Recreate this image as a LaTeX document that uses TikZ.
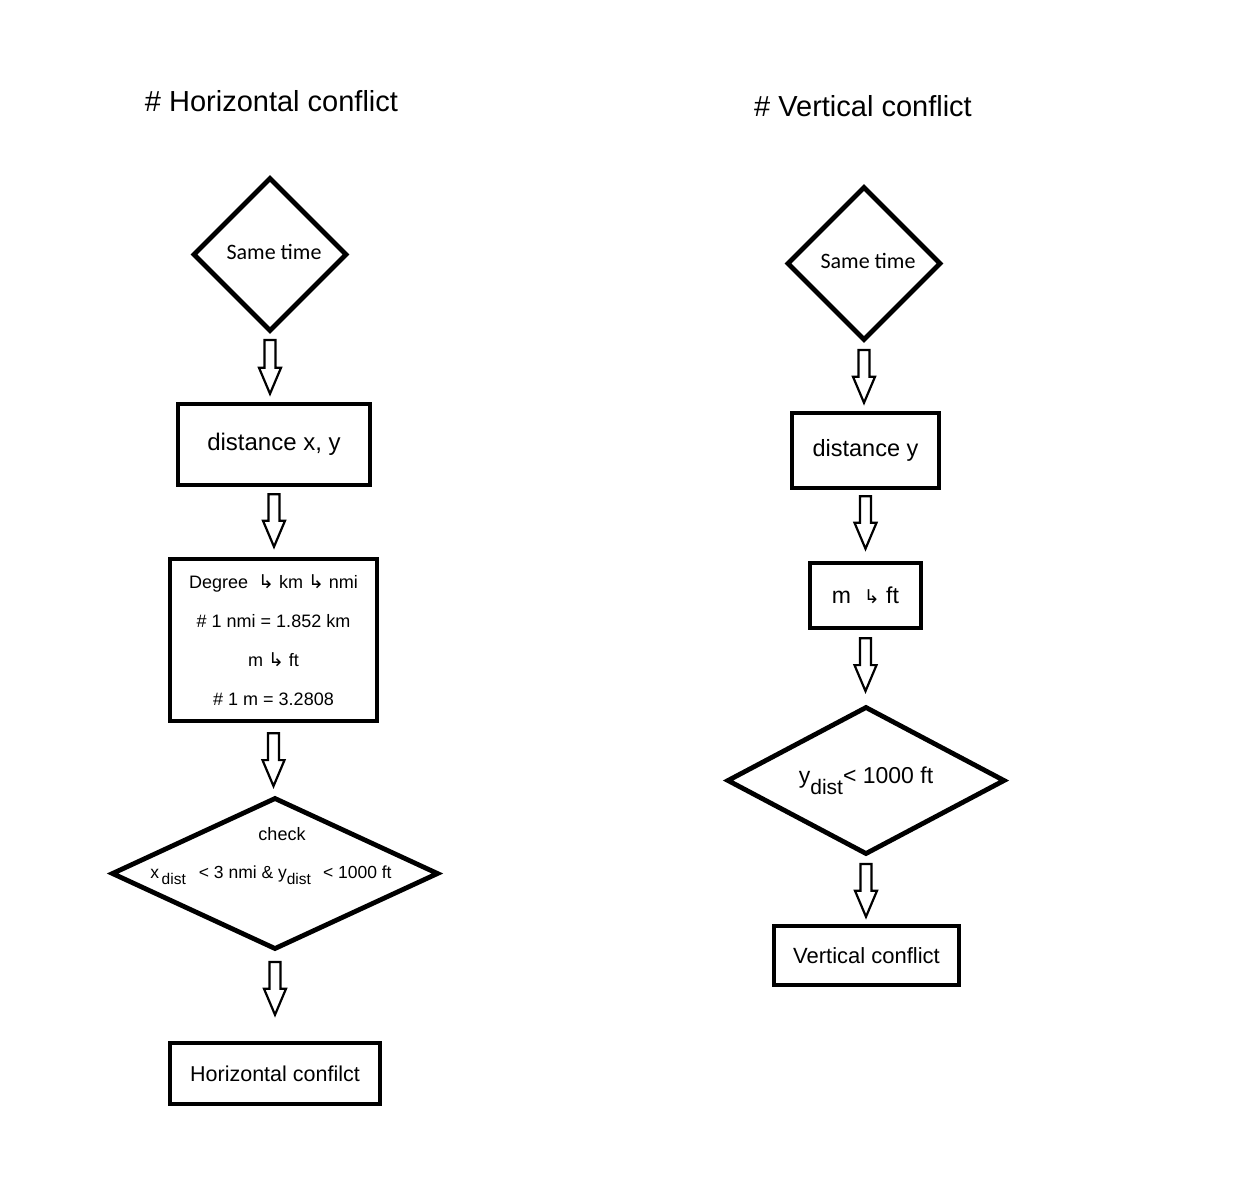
\documentclass[tikz,border=0pt]{standalone}
\usepackage{fontspec}
\setmainfont{Liberation Sans}
\newfontfamily\calib{Carlito}
\newfontfamily\djv{DejaVu Sans}
\usetikzlibrary{shapes.geometric,calc}
\newcommand\harr{{\djv\fontsize{19}{19}\selectfont\char"21B3}}
\newcommand\barrow[4]{\draw[blockarrow] let \p1=(#1.south), \p2=(#2.north) in
  (\x1-5.5pt,\y1-#3pt) -- (\x1+5.5pt,\y1-#3pt) -- (\x1+5.5pt,\y2+#4pt+26pt) -- (\x1+11pt,\y2+#4pt+26pt)
  -- (\x1,\y2+#4pt) -- (\x1-11pt,\y2+#4pt+26pt) -- (\x1-5.5pt,\y2+#4pt+26pt) -- cycle;}
\tikzset{
  box/.style={draw, line width=4.5pt, inner sep=0pt},
  dia/.style={draw, diamond, line width=4.8pt, inner sep=0pt},
  title/.style={font=\fontsize{29}{35}\selectfont, inner sep=0pt},
  sametime/.style={font=\calib\fontsize{22}{26}\selectfont, inner sep=0pt},
  blockarrow/.style={draw, line width=2.2pt, fill=white, line join=miter},
}
\begin{document}
\begin{tikzpicture}[x=1pt,y=-1pt]
\useasboundingbox (0,0) rectangle (1233,1184);
\fill[white] (0,0) rectangle (1233,1184);
% left column
\node[title] (t1) at (271.5,101) {\# Horizontal conflict};
\node[dia, minimum width=154, minimum height=154] (d1) at (270,254.5) {};
\node[sametime] (s1) at (274,252) {Same time};
\node[box, minimum width=192, minimum height=81, font=\fontsize{24}{29}\selectfont] (r1) at (274,444.5) {distance x, y};
\node[box, minimum width=207, minimum height=162, align=center, font=\fontsize{18}{39}\selectfont] (r2) at (273.5,640)
  {Degree \ \harr\ km \harr\ nmi\\ \# 1 nmi = 1.852 km\\ m \harr\ ft\\ \# 1 m = 3.2808};
\node[dia, minimum width=327, minimum height=152] (d2) at (275,873.5) {};
\node[font=\fontsize{18}{20}\selectfont, inner sep=0pt] (c1) at (282,834) {check};
\node[font=\fontsize{17.5}{20}\selectfont, inner sep=0pt] (c2) at (271,875)
  {x\raisebox{-6pt}{\fontsize{15.5}{15}\selectfont\,dist}\hspace{13pt}< 3 nmi \& y\raisebox{-6pt}{\fontsize{15.5}{15}\selectfont dist}\hspace{12pt}< 1000 ft};
\node[box, minimum width=210, minimum height=61, font=\fontsize{21.5}{25}\selectfont] (r3) at (275,1073.5) {Horizontal confilct};
% right column
\node[title] (t2) at (863,106) {\# Vertical conflict};
\node[dia, minimum width=154, minimum height=154] (d3) at (864,263.5) {};
\node[sametime] (s2) at (868,261) {Same time};
\node[box, minimum width=147, minimum height=75, font=\fontsize{23.5}{27}\selectfont] (r4) at (865.5,450.5) {distance y};
\node[box, minimum width=111, minimum height=65, font=\fontsize{23}{27}\selectfont] (r5) at (865.5,595.5) {m \ \harr\ ft};
\node[dia, minimum width=278, minimum height=148] (d4) at (866,780.5) {};
\node[font=\fontsize{23}{27}\selectfont, inner sep=0pt] (y1) at (866,781)
  {y\raisebox{-11pt}{\fontsize{21}{21}\selectfont dist}< 1000 ft};
\node[box, minimum width=185, minimum height=59, font=\fontsize{22}{26}\selectfont] (r6) at (866.5,955.5) {Vertical conflict};
% block arrows
\barrow{d1}{r1}{6}{8}
\barrow{r1}{r2}{7}{10}
\barrow{r2}{d2}{10}{9}
\barrow{d2}{r3}{10}{26}
\barrow{d3}{r4}{7}{8}
\barrow{r4}{r5}{6}{12}
\barrow{r5}{d4}{8}{13}
\barrow{d4}{r6}{7}{7}
\end{tikzpicture}
\end{document}
